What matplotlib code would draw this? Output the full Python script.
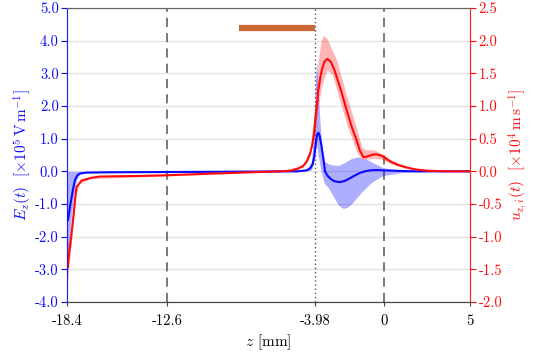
import numpy as np
import matplotlib
matplotlib.use("Agg")
import matplotlib.pyplot as plt

plt.rcParams["font.family"] = "serif"
plt.rcParams["font.serif"] = ["cmr10", "DejaVu Serif"]
plt.rcParams["mathtext.fontset"] = "cm"
plt.rcParams["axes.unicode_minus"] = False

# E_z(t) [x1e5 V/m] along z [mm]
z_e = [-18.4, -18.35, -18.2, -18.05, -17.94, -17.8, -17.65, -17.3, -16.0, -12.0, -8.0,
       -5.0, -4.5, -4.3, -4.15, -4.05, -3.98, -3.92, -3.86, -3.8, -3.74, -3.65, -3.55,
       -3.48, -3.42, -3.3, -3.1, -2.9, -2.6, -2.3, -2.0, -1.7, -1.4, -1.1, -0.8, -0.4,
       0.0, 1.0, 2.0, 5.0]
e_mean = [-1.45, -1.5, -1.0, -0.55, -0.27, -0.12, -0.07, -0.04, -0.03, -0.02, -0.01,
          0.0, 0.03, 0.08, 0.2, 0.45, 0.75, 1.0, 1.15, 1.18, 1.1, 0.85, 0.5,
          0.25, 0.0, -0.12, -0.23, -0.3, -0.33, -0.3, -0.22, -0.13, -0.05, 0.0, 0.03, 0.04,
          0.03, 0.01, 0.0, 0.0]

z_eb = [-18.4, -18.3, -18.15, -18.0, -17.85, -17.65, -17.3, -16.0, -8.0, -4.5, -4.2,
        -4.05, -3.95, -3.9, -3.82, -3.7, -3.6, -3.45, -3.23, -3.03, -2.64, -2.35,
        -2.06, -1.87, -1.48, -1.29, -0.9, -0.7, -0.13, 0.07, 1.04, 2.5, 4.0, 5.0]
e_hi = [0.0, 0.0, 0.0, 0.0, 0.0, 0.0, 0.0, 0.0, 0.0, 0.05, 0.3,
        1.5, 3.1, 3.35, 2.5, 1.4, 0.8, 0.3, 0.23, 0.2, 0.18, 0.25,
        0.34, 0.4, 0.44, 0.4, 0.34, 0.28, 0.13, 0.1, 0.03, 0.0, 0.0, 0.0]
e_lo = [-3.45, -2.3, -1.4, -0.7, -0.27, -0.08, -0.04, -0.03, -0.01, 0.0, 0.05,
        0.3, 0.7, 0.8, 0.5, 0.15, -0.1, -0.38, -0.5, -0.68, -1.04, -1.14,
        -1.08, -0.99, -0.75, -0.63, -0.43, -0.33, -0.15, -0.12, -0.04, -0.01, 0.0, 0.0]

# u_{z,i}(t) [x1e4 m/s]
z_u = [-18.4, -18.37, -18.2, -18.03, -17.9, -17.84, -17.55, -17.0, -16.5, -14.0, -12.6,
       -10.0, -7.8, -6.0, -5.4, -5.0, -4.7, -4.48, -4.29, -4.15, -4.05, -3.98, -3.9,
       -3.81, -3.7, -3.6, -3.45, -3.3, -3.1, -2.9, -2.74, -2.45, -2.16, -1.87, -1.58,
       -1.4, -1.2, -1.05, -0.9, -0.65, -0.45, -0.2, 0.0, 0.2, 0.45, 0.8, 1.23, 1.8,
       2.5, 3.5, 5.0]
u_mean = [-1.3, -1.47, -1.1, -0.7, -0.35, -0.24, -0.14, -0.1, -0.08, -0.07, -0.06,
          -0.035, -0.015, 0.0, 0.01, 0.04, 0.08, 0.15, 0.27, 0.42, 0.6, 0.8, 1.0,
          1.24, 1.43, 1.56, 1.68, 1.72, 1.68, 1.57, 1.44, 1.2, 0.93, 0.68, 0.47,
          0.32, 0.22, 0.22, 0.235, 0.255, 0.26, 0.245, 0.22, 0.18, 0.14, 0.1, 0.066, 0.03,
          0.01, 0.0, 0.0]

z_ub = [-18.4, -18.3, -18.1, -17.9, -17.7, -17.0, -12.0, -6.0, -4.7, -4.3, -4.0,
        -3.9, -3.81, -3.65, -3.52, -3.3, -3.0, -2.74, -2.16, -1.58, -1.3, -1.1,
        -0.6, -0.2, 0.45, 1.2, 2.5, 5.0]
u_hi = [-1.05, -1.1, -0.75, -0.3, -0.15, -0.09, -0.055, 0.0, 0.1, 0.32, 1.0,
        1.35, 1.7, 2.0, 2.08, 2.03, 1.85, 1.7, 1.15, 0.65, 0.38, 0.33,
        0.33, 0.28, 0.17, 0.08, 0.01, 0.0]
u_lo = [-1.75, -1.5, -0.95, -0.4, -0.19, -0.11, -0.065, 0.0, 0.06, 0.22, 0.6,
        0.8, 1.0, 1.25, 1.4, 1.55, 1.48, 1.25, 0.72, 0.3, 0.19, 0.18,
        0.2, 0.19, 0.11, 0.05, 0.0, 0.0]

# horizontal bar (left axis units)
bar_z = [-8.4, -3.98]
bar_y = 4.4

xticks = [-18.4, -12.6, -3.98, 0, 5]
xticklabels = ["-18.4", "-12.6", "-3.98", "0", "5"]
yticks_l = [-4, -3, -2, -1, 0, 1, 2, 3, 4, 5]
yticks_r = [-2.0, -1.5, -1.0, -0.5, 0.0, 0.5, 1.0, 1.5, 2.0, 2.5]

blue = "#0a0aff"
red = "#ff0a0a"

fig = plt.figure(figsize=(5.36, 3.6), dpi=100)
ax = fig.add_axes([0.125, 0.161, 0.752, 0.817])
ax2 = ax.twinx()

for y in yticks_l:
    ax.axhline(y, color="#e4e4e4", lw=1.0, zorder=0)
for x in (-12.6, 0):
    ax.axvline(x, color="#555555", lw=1.1, dashes=(6, 4), zorder=1)
ax.axvline(-3.98, color="#555555", lw=1.0, ls=(0, (1, 2)), zorder=1)

ax.fill_between(z_eb, e_lo, e_hi, color=blue, alpha=0.33, lw=0, zorder=2)
ax.plot(z_e, e_mean, color=blue, lw=1.5, zorder=3)
ax.plot(bar_z, [bar_y, bar_y], color="#c4561f", lw=4.5, alpha=0.9,
        solid_capstyle="butt", zorder=3)

ax2.fill_between(z_ub, u_lo, u_hi, color=red, alpha=0.3, lw=0)
ax2.plot(z_u, u_mean, color=red, lw=1.5)

ax.set_xlim(-18.4, 5)
ax.set_ylim(-4, 5)
ax2.set_ylim(-2, 2.5)

ax.set_xticks(xticks)
ax.set_xticklabels(xticklabels)
ax.set_yticks(yticks_l)
ax.set_yticklabels(["%.1f" % v for v in yticks_l])
ax2.set_yticks(yticks_r)
ax2.set_yticklabels(["%.1f" % v for v in yticks_r])

ax.tick_params(axis="x", labelsize=10.5, length=3, color="#444444", pad=6)
ax.tick_params(axis="y", labelsize=10.5, length=4, colors=blue, pad=2)
ax2.tick_params(axis="y", labelsize=10.5, length=4, colors=red, pad=2)

for a in (ax, ax2):
    a.spines["top"].set_color("#666666")
    a.spines["bottom"].set_color("#444444")
    a.spines["left"].set_color(blue)
    a.spines["right"].set_color(red)
    a.spines["left"].set_alpha(0.7)
    a.spines["right"].set_alpha(0.7)

ax.set_xlabel(r"$z$ [mm]", fontsize=11, labelpad=3)
ax.set_ylabel(r"$E_z(t)$  $[\times 10^5\,\mathrm{V\,m^{-1}}]$", color=blue,
              fontsize=11, labelpad=1)
ax2.set_ylabel(r"$u_{z,i}(t)$  $[\times 10^4\,\mathrm{m\,s^{-1}}]$", color=red,
               fontsize=11, labelpad=3)

fig.savefig("out.png", dpi=100)
